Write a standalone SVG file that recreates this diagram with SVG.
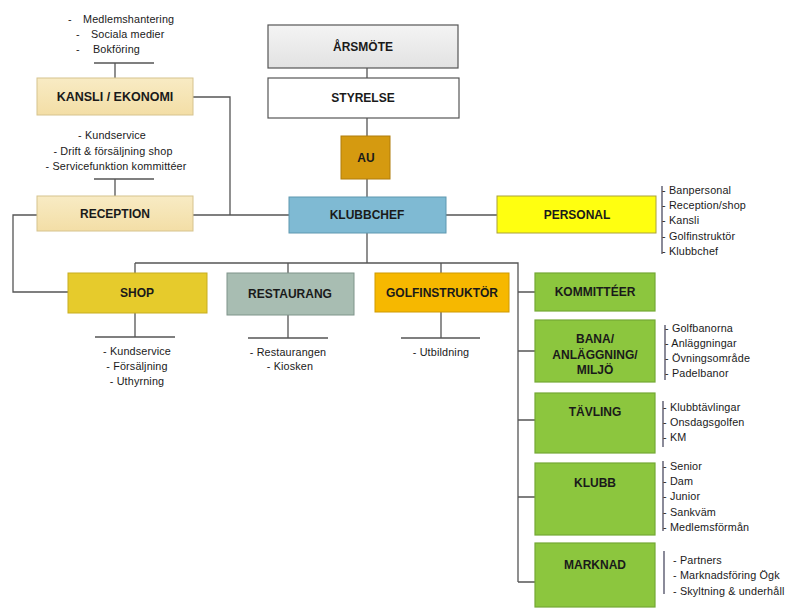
<svg xmlns="http://www.w3.org/2000/svg" width="789" height="608" viewBox="0 0 789 608">
<defs>
<linearGradient id="gGray" x1="0" y1="0" x2="0" y2="1"><stop offset="0" stop-color="#f4f4f4"/><stop offset="1" stop-color="#e2e2e2"/></linearGradient>
<linearGradient id="gBeige" x1="0" y1="0" x2="0" y2="1"><stop offset="0" stop-color="#f8ebc4"/><stop offset="1" stop-color="#f3dea6"/></linearGradient>
</defs>
<style>
.lbl{font-family:"Liberation Sans",Arial,sans-serif;font-weight:bold;font-size:12px;fill:#1a1a1a;text-anchor:middle}
.lst{font-family:"Liberation Sans",Arial,sans-serif;font-size:10.8px;letter-spacing:0.15px;fill:#1a1a1a}
.c{text-anchor:middle}
.ln{stroke:#555;stroke-width:1.3;fill:none}
.br{stroke:#3d3d55;stroke-width:1.2;fill:none}
.green{fill:#8cc63e;stroke:#74a834;stroke-width:1.2}
</style>
<rect width="789" height="608" fill="#ffffff"/>
<g id="connectors" class="ln">
<path d="M367 68V78M367 118V136M367 179V197M367 233V263"/>
<path d="M135 263H518V582"/>
<path d="M135 263V273M288 263V273M441 263V273"/>
<path d="M518 292H535M518 351H535M518 420H535M518 497H535M518 582H535"/>
<path d="M446 215H497"/>
<path d="M193 215H289M193 97H230V215"/>
<path d="M37 215H13V292H68"/>
<path d="M94 63H154M115 63V78"/>
<path d="M94 179H154M115 179V196"/>
<path d="M135 313V337M95 337H175"/>
<path d="M288 315V338M248 338H328"/>
<path d="M441 312V338M401 338H480"/>
</g>
<g id="arsmote"><rect x="268" y="25" width="190" height="43" fill="url(#gGray)" stroke="#555" stroke-width="1.2"/><text class="lbl" x="363" y="51">ÅRSMÖTE</text></g>
<g id="styrelse"><rect x="268" y="78" width="191" height="40" fill="#fff" stroke="#555" stroke-width="1.2"/><text class="lbl" x="363" y="102">STYRELSE</text></g>
<g id="au"><rect x="341" y="136" width="49" height="43" fill="#d59a10" stroke="#b07d0a" stroke-width="1"/><text class="lbl" x="366" y="162">AU</text></g>
<g id="klubbchef"><rect x="289" y="197" width="157" height="36" fill="#7fbad3" stroke="#5e98b0" stroke-width="1"/><text class="lbl" x="367" y="219">KLUBBCHEF</text></g>
<g id="personal"><rect x="497" y="196" width="159" height="37" fill="#ffff10" stroke="#aaa23a" stroke-width="1"/><text class="lbl" x="577" y="219">PERSONAL</text>
<path class="br" d="M662 186V254"/>
<text class="lst" x="662" y="194">- Banpersonal</text>
<text class="lst" x="662" y="209">- Reception/shop</text>
<text class="lst" x="662" y="224">- Kansli</text>
<text class="lst" x="662" y="240">- Golfinstruktör</text>
<text class="lst" x="662" y="255">- Klubbchef</text></g>
<g id="kansli"><rect x="37" y="78" width="156" height="37" fill="url(#gBeige)" stroke="#d6c38e" stroke-width="1"/><text class="lbl" x="115" y="101" style="font-size:12.5px">KANSLI / EKONOMI</text>
<text class="lst" x="68" y="23">-<tspan x="83">Medlemshantering</tspan></text>
<text class="lst" x="76" y="38">-<tspan x="91">Sociala medier</tspan></text>
<text class="lst" x="76" y="53">-<tspan x="93">Bokföring</tspan></text></g>
<g id="reception"><rect x="37" y="196" width="156" height="35" fill="url(#gBeige)" stroke="#d6c38e" stroke-width="1"/><text class="lbl" x="115" y="218">RECEPTION</text>
<text class="lst c" x="112" y="139">- Kundservice</text>
<text class="lst c" x="113" y="155">- Drift &amp; försäljning shop</text>
<text class="lst c" x="116" y="170">- Servicefunktion kommittéer</text></g>
<g id="shop"><rect x="68" y="273" width="139" height="40" fill="#e6cb2c" stroke="#c7ad20" stroke-width="1"/><text class="lbl" x="137" y="297">SHOP</text>
<text class="lst c" x="137" y="355">- Kundservice</text>
<text class="lst c" x="137" y="370">- Försäljning</text>
<text class="lst c" x="137" y="385">- Uthyrning</text></g>
<g id="restaurang"><rect x="227" y="273" width="127" height="42" fill="#a8bdb2" stroke="#7f948a" stroke-width="1"/><text class="lbl" x="290" y="298">RESTAURANG</text>
<text class="lst c" x="288" y="356">- Restaurangen</text>
<text class="lst c" x="290" y="370">- Kiosken</text></g>
<g id="golfinstruktor"><rect x="375" y="273" width="134" height="39" fill="#f6b800" stroke="#d09a00" stroke-width="1"/><text class="lbl" x="442" y="297">GOLFINSTRUKTÖR</text>
<text class="lst c" x="441" y="356">- Utbildning</text></g>
<g id="kommitteer"><rect class="green" x="535" y="273" width="120" height="38"/><text class="lbl" x="595" y="296">KOMMITTÉER</text></g>
<g id="bana"><rect class="green" x="535" y="320" width="120" height="62"/><text class="lbl" x="595" y="343">BANA/</text><text class="lbl" x="595" y="359">ANLÄGGNING/</text><text class="lbl" x="595" y="374">MILJÖ</text>
<path class="br" d="M665 325V380"/>
<text class="lst" x="665" y="332">- Golfbanorna</text>
<text class="lst" x="665" y="347">- Anläggningar</text>
<text class="lst" x="665" y="362">- Övningsområde</text>
<text class="lst" x="665" y="377">- Padelbanor</text></g>
<g id="tavling"><rect class="green" x="535" y="393" width="120" height="60"/><text class="lbl" x="595" y="416">TÄVLING</text>
<path class="br" d="M663 401V447"/>
<text class="lst" x="663" y="411">- Klubbtävlingar</text>
<text class="lst" x="663" y="426">- Onsdagsgolfen</text>
<text class="lst" x="663" y="441">- KM</text></g>
<g id="klubb"><rect class="green" x="535" y="463" width="120" height="72"/><text class="lbl" x="595" y="487">KLUBB</text>
<path class="br" d="M663 461V531"/>
<text class="lst" x="663" y="470">- Senior</text>
<text class="lst" x="663" y="485">- Dam</text>
<text class="lst" x="663" y="500">- Junior</text>
<text class="lst" x="663" y="516">- Sankväm</text>
<text class="lst" x="663" y="531">- Medlemsförmån</text></g>
<g id="marknad"><rect class="green" x="535" y="543" width="120" height="64"/><text class="lbl" x="595" y="569">MARKNAD</text>
<path class="br" d="M664 551V594"/>
<text class="lst" x="673" y="564">- Partners</text>
<text class="lst" x="673" y="579">- Marknadsföring Ögk</text>
<text class="lst" x="673" y="595">- Skyltning &amp; underhåll</text></g>
</svg>
